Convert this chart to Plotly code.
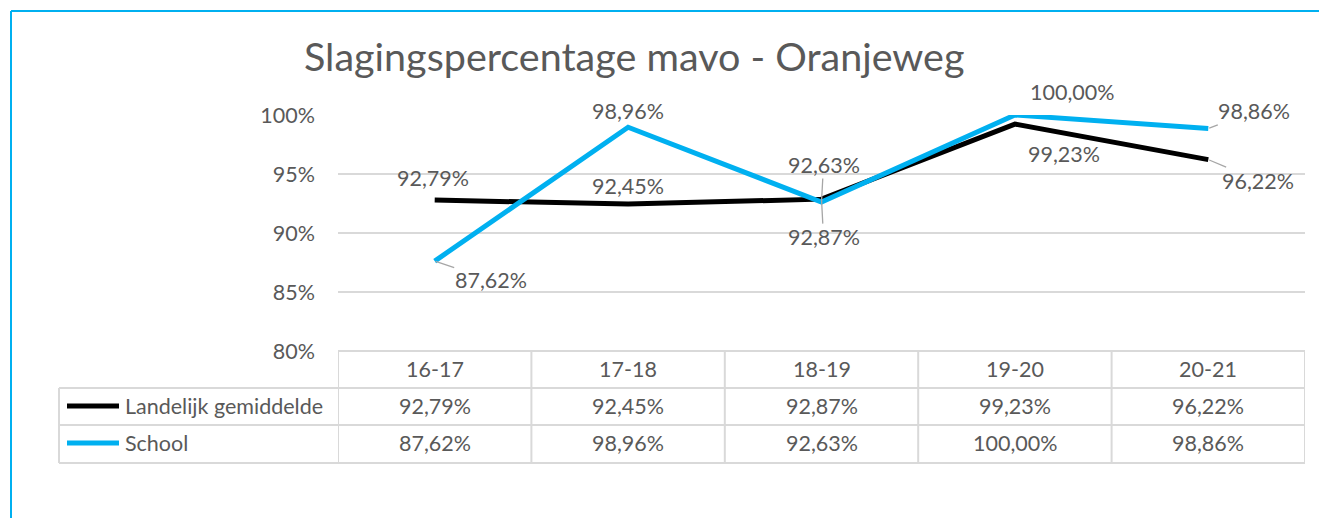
import plotly.graph_objects as go

categories = ["16-17", "17-18", "18-19", "19-20", "20-21"]
landelijk = [92.79, 92.45, 92.87, 99.23, 96.22]
school = [87.62, 98.96, 92.63, 100.00, 98.86]
series_names = ["Landelijk gemiddelde", "School"]
y_ticks = [80, 85, 90, 95, 100]
title = "Slagingspercentage mavo - Oranjeweg"

W_FIG, H_FIG = 1319, 518
L, R, T, B = 338, 1305, 115, 351
PW, PH = R - L, B - T
FONT = "Lato"
GREY = "#595959"
BLACK = "#000000"
BLUE = "#00B0F0"
GRID = "#D9D9D9"
FS = 21.5


def px(xp):
    return (xp - L) / PW


def py(yp):
    return (B - yp) / PH


def fmt(v):
    return f"{v:.2f}".replace(".", ",") + "%"


fig = go.Figure()
xs = list(range(len(categories)))
fig.add_trace(go.Scatter(x=xs, y=landelijk, mode="lines", name=series_names[0],
                         line=dict(color=BLACK, width=5), cliponaxis=False, showlegend=False))
fig.add_trace(go.Scatter(x=xs, y=school, mode="lines", name=series_names[1],
                         line=dict(color=BLUE, width=5), cliponaxis=False, showlegend=False))

annotations = []
shapes = []

# data labels: (series values, index, dx, dy, leader)
label_specs = [
    (landelijk, 0, -2, -22, False),
    (landelijk, 1, 0, -18, False),
    (landelijk, 2, 2, 38, True),
    (landelijk, 3, 49, 30, False),
    (landelijk, 4, 50, 21, True),
    (school, 0, 56, 19, True),
    (school, 1, 0, -16, False),
    (school, 2, 2, -37, True),
    (school, 3, 57, -23, False),
    (school, 4, 46, -17, True),
]
for vals, i, dx, dy, leader in label_specs:
    annotations.append(dict(
        x=xs[i], y=vals[i], xref="x", yref="y", text=fmt(vals[i]),
        showarrow=True, ax=dx, ay=dy, arrowhead=0, arrowwidth=1.3,
        arrowcolor="#A6A6A6" if leader else "rgba(0,0,0,0)", standoff=1,
        xanchor="center", yanchor="middle",
        font=dict(family=FONT, size=FS, color=GREY), borderpad=0))

# table
row_y = [351, 388, 425, 463]
leg_left = 59
shapes.append(dict(type="line", xref="paper", yref="paper", x0=px(L), x1=px(R), y0=py(row_y[0]), y1=py(row_y[0]),
                   line=dict(color=GRID, width=2)))
for yy in row_y[1:]:
    shapes.append(dict(type="line", xref="paper", yref="paper", x0=px(leg_left), x1=px(R), y0=py(yy), y1=py(yy),
                       line=dict(color=GRID, width=2)))
shapes.append(dict(type="line", xref="paper", yref="paper", x0=px(leg_left), x1=px(leg_left),
                   y0=py(row_y[1]), y1=py(row_y[3]), line=dict(color=GRID, width=2)))
for k in range(len(categories) + 1):
    shapes.append(dict(type="line", xref="x", yref="paper", x0=k - 0.5, x1=k - 0.5,
                       y0=py(row_y[0]), y1=py(row_y[3]), line=dict(color=GRID, width=2)))

cell_font = dict(family=FONT, size=FS, color=GREY)
for i, c in enumerate(categories):
    for text, yc in [(c, 369), (fmt(landelijk[i]), 406), (fmt(school[i]), 443)]:
        annotations.append(dict(x=xs[i], y=py(yc), xref="x", yref="paper", text=text, showarrow=False,
                                xanchor="center", yanchor="middle", font=cell_font))

# legend keys in table
for name, col, yc in [(series_names[0], BLACK, 406), (series_names[1], BLUE, 443)]:
    shapes.append(dict(type="line", xref="paper", yref="paper", x0=px(67), x1=px(119), y0=py(yc), y1=py(yc),
                       line=dict(color=col, width=5)))
    annotations.append(dict(x=px(123), y=py(yc), xref="paper", yref="paper", text=name, showarrow=False,
                            xanchor="left", yanchor="middle", font=cell_font))

# chart border
shapes.append(dict(type="line", xref="paper", yref="paper", x0=px(11), x1=px(11), y0=py(11), y1=py(540),
                   line=dict(color=BLUE, width=2)))
shapes.append(dict(type="line", xref="paper", yref="paper", x0=px(11), x1=px(1340), y0=py(11), y1=py(11),
                   line=dict(color=BLUE, width=2)))

annotations.append(dict(x=px(634), y=py(55), xref="paper", yref="paper", text=title, showarrow=False,
                        xanchor="center", yanchor="middle",
                        font=dict(family=FONT, size=39.5, color=GREY)))

fig.update_layout(
    width=W_FIG, height=H_FIG,
    margin=dict(l=L, r=W_FIG - R, t=T, b=H_FIG - B, pad=0),
    paper_bgcolor="white", plot_bgcolor="white",
    xaxis=dict(range=[-0.5, len(categories) - 0.5], showticklabels=False, showgrid=False,
               zeroline=False, showline=False, fixedrange=True),
    yaxis=dict(range=[80, 100], tickvals=y_ticks, ticktext=[f"{v}%" for v in y_ticks],
               showgrid=True, gridcolor=GRID, gridwidth=1.5, zeroline=False, showline=False,
               tickfont=dict(family=FONT, size=FS, color=GREY), ticklabelstandoff=22, fixedrange=True),
    annotations=annotations, shapes=shapes, showlegend=False,
)

fig.write_html("out.html", config={"displayModeBar": False},
               post_script="document.body.style.margin='0';document.body.style.overflow='hidden';")
